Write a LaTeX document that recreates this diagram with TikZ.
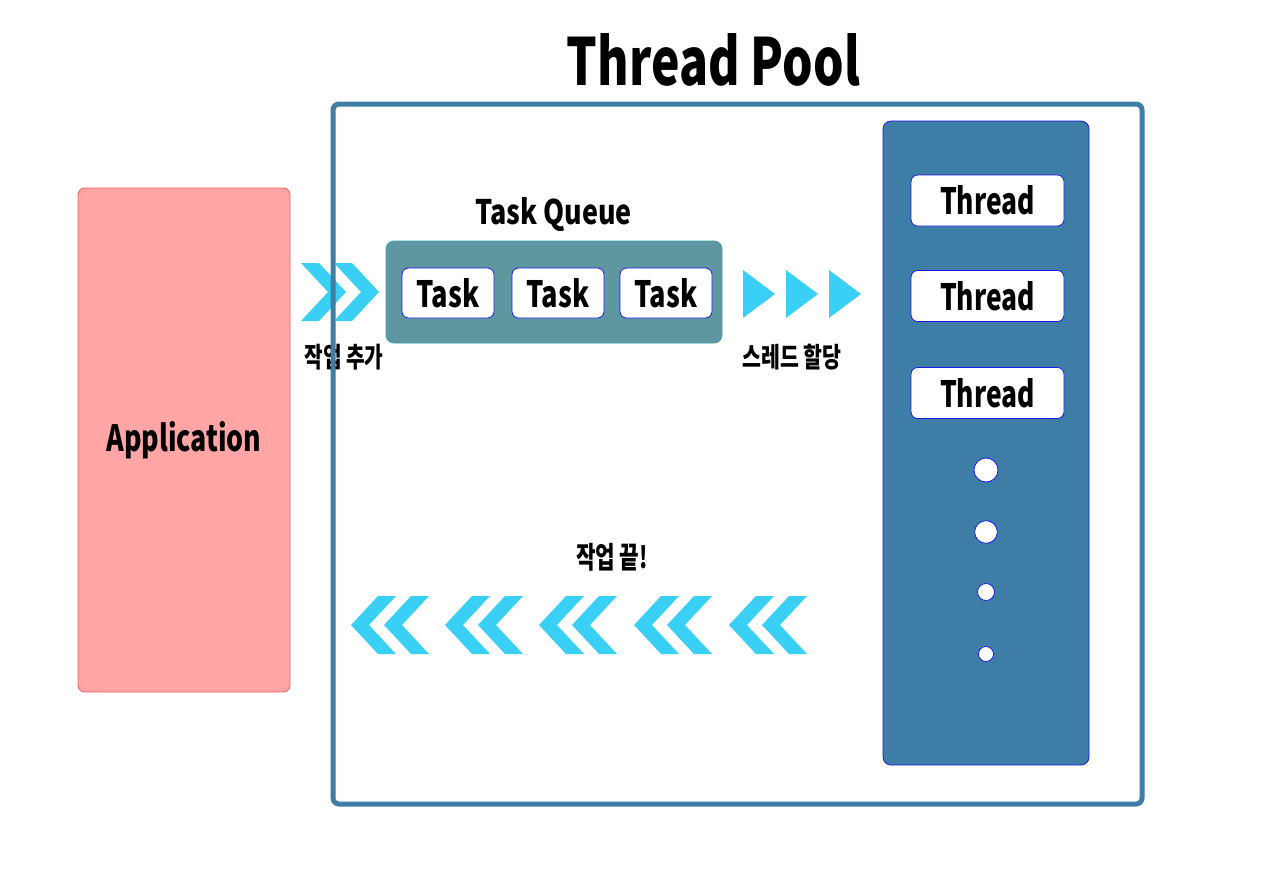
\documentclass[tikz,border=0pt]{standalone}
\usepackage{fontspec}
\usepackage{graphicx}
\newfontfamily\krfont{Noto Sans CJK KR}
\definecolor{poolblue}{RGB}{62,126,166}
\definecolor{queuefill}{RGB}{94,151,160}
\definecolor{queueline}{RGB}{60,160,175}
\definecolor{appfill}{RGB}{255,165,165}
\definecolor{appline}{RGB}{255,90,90}
\definecolor{edgeblue}{RGB}{25,25,230}
\definecolor{arrowcyan}{RGB}{58,208,245}
\newcommand\fitL[3]{\resizebox{#1}{#2}{\krfont\bfseries #3}}
\newcommand\fitK[3]{\resizebox*{#1}{#2}{\krfont\bfseries #3}}
\tikzset{
  lbl/.style={inner sep=0pt, outer sep=0pt},
  appbox/.style={draw=appline, fill=appfill, line width=0.6pt, rounded corners=5pt, minimum width=159pt, minimum height=378pt, inner sep=0pt},
  queuebox/.style={draw=queueline, fill=queuefill, line width=0.6pt, rounded corners=6pt, minimum width=252pt, minimum height=76.5pt, inner sep=0pt},
  taskbox/.style={draw=edgeblue, fill=white, line width=0.6pt, rounded corners=5pt, minimum width=69pt, minimum height=37.5pt, inner sep=0pt},
  colbox/.style={draw=edgeblue, fill=poolblue, line width=0.6pt, rounded corners=6pt, minimum width=154.5pt, minimum height=483pt, inner sep=0pt},
  threadbox/.style={draw=edgeblue, fill=white, line width=0.6pt, rounded corners=5pt, minimum width=114.75pt, minimum height=38.25pt, inner sep=0pt},
  dotc/.style={circle, draw=edgeblue, fill=white, line width=0.6pt, inner sep=0pt},
  cyanshape/.style={fill=arrowcyan, draw=none},
  frame/.style={draw=poolblue, line width=3.75pt, rounded corners=4.5pt}
}
\begin{document}
\begin{tikzpicture}[x=0.75pt,y=-0.75pt]
\useasboundingbox (0,0) rectangle (1280,886);
\fill[white] (0,0) rectangle (1280,886);

% title
\node[lbl, anchor=base] (title) at (713.5,85) {\fitL{219.75pt}{39pt}{Thread Pool}};

% application
\node[appbox] (app) at (184,440) {\fitL{116.25pt}{22.5pt}{Application}};

% input chevrons
\foreach \s in {301,334}{
  \fill[cyanshape] (\s,263) -- (\s+18,263) -- (\s+45,292) -- (\s+18,321) -- (\s,321) -- (\s+27,292) -- cycle;
}
\node[lbl] (addlbl) at (344,357) {\fitK{59.25pt}{19.5pt}{작업 추가}};

% task queue
\node[lbl, anchor=base] (tqlbl) at (553.5,224) {\fitL{117.75pt}{20.25pt}{Task Queue}};
\node[queuebox] (queue) at (554,292) {};
\node[taskbox] (t1) at (448,293) {\fitL{47.25pt}{21.75pt}{Task}};
\node[taskbox] (t2) at (558,293) {\fitL{47.25pt}{21.75pt}{Task}};
\node[taskbox] (t3) at (666,293) {\fitL{47.25pt}{21.75pt}{Task}};

% assign triangles
\foreach \s in {743,786,829}{
  \fill[cyanshape] (\s,270) -- (\s+32,294) -- (\s,318) -- cycle;
}
\node[lbl] (assignlbl) at (792,357) {\fitK{74.25pt}{19.5pt}{스레드 할당}};

% thread column
\node[colbox] (col) at (986,443) {};
\node[threadbox] (th1) at (987.5,200.5) {\fitL{71.25pt}{21.75pt}{Thread}};
\node[threadbox] (th2) at (987.5,296) {\fitL{71.25pt}{21.75pt}{Thread}};
\node[threadbox] (th3) at (987.5,393) {\fitL{71.25pt}{21.75pt}{Thread}};
\node[dotc, minimum size=18pt] (d1) at (986,470) {};
\node[dotc, minimum size=17pt] (d2) at (986,532) {};
\node[dotc, minimum size=12.75pt] (d3) at (986,592) {};
\node[dotc, minimum size=11.25pt] (d4) at (986,654) {};

% done chevrons
\node[lbl] (donelbl) at (612,557) {\fitK{54pt}{21pt}{작업 끝!}};
\foreach \t in {351,445,539,634,729}{
  \foreach \o in {0,33}{
    \fill[cyanshape] (\t+\o,625) -- (\t+\o+27,596) -- (\t+\o+45,596) -- (\t+\o+18,625) -- (\t+\o+45,654) -- (\t+\o+27,654) -- cycle;
  }
}

% pool frame
\draw[frame] (333,104) rectangle (1142,804);
\end{tikzpicture}
\end{document}
